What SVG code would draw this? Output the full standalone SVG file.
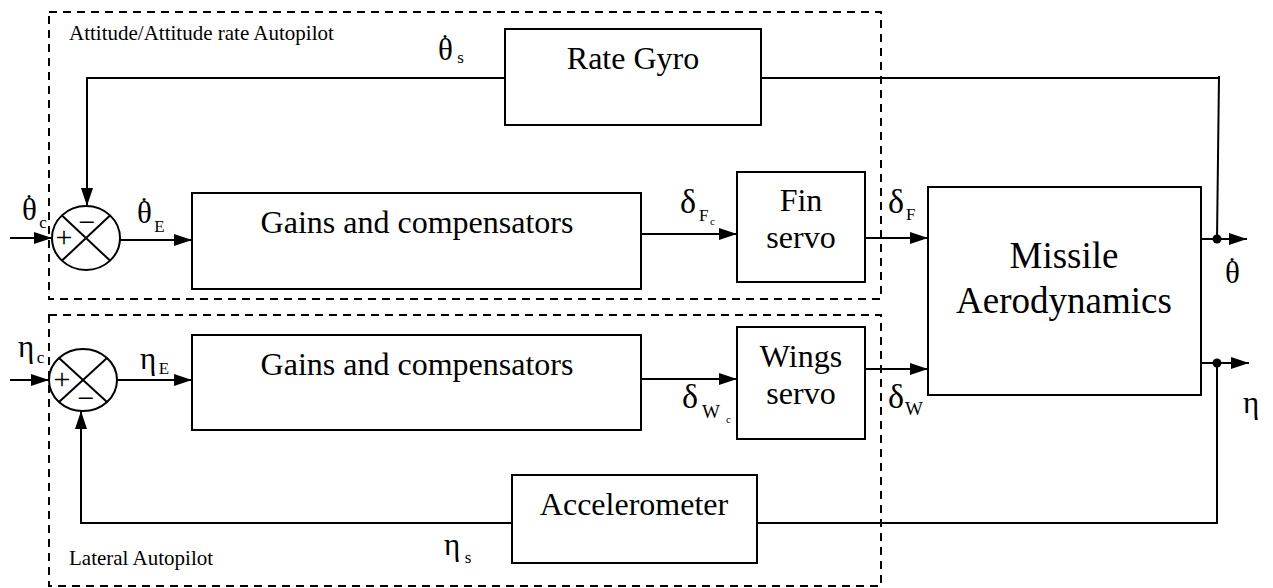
<svg xmlns="http://www.w3.org/2000/svg" width="1273" height="588" viewBox="0 0 1273 588">
<style>
text{font-family:"Liberation Serif","Times New Roman",serif;fill:#000}
.box{fill:#fff;stroke:#000;stroke-width:2}
.dash{fill:none;stroke:#000;stroke-width:2;stroke-dasharray:8 6}
.ln{fill:none;stroke:#000;stroke-width:2}
.arr{fill:none;stroke:#000;stroke-width:2;marker-end:url(#ah)}
.big{font-size:32px;text-anchor:middle}
.lab{font-size:21px}
.gk{font-size:31px}
.dl{font-size:34px}
.dot{font-size:26px}
.sub{font-size:17px}
.subw{font-size:19px}
.subsub{font-size:11px}
.sg{font-size:30px;text-anchor:middle}
</style>
<defs>
<marker id="ah" viewBox="0 0 18 12" refX="18" refY="6" markerWidth="18" markerHeight="12" markerUnits="userSpaceOnUse" orient="auto">
<path d="M0,0 L18,6 L0,12 Z" fill="#000"/>
</marker>
</defs>
<rect width="1273" height="588" fill="#fff"/>

<g id="autopilot-boundaries">
<rect class="dash" x="49" y="12" width="832" height="287"/>
<rect class="dash" x="49" y="315" width="832" height="271"/>
<text class="lab" x="69" y="40">Attitude/Attitude rate Autopilot</text>
<text class="lab" x="69" y="565">Lateral Autopilot</text>
</g>

<g id="connectors">
<line class="arr" x1="10" y1="238" x2="52" y2="238"/>
<line class="arr" x1="120" y1="240" x2="192" y2="240"/>
<line class="arr" x1="641" y1="234" x2="737" y2="234"/>
<line class="arr" x1="865" y1="238" x2="928" y2="238"/>
<line class="arr" x1="1201" y1="239" x2="1247" y2="239"/>
<polyline class="ln" points="1217,239 1219,76"/>
<line class="ln" x1="1219" y1="78" x2="761" y2="78"/>
<polyline class="arr" points="505,78 87,78 87,206"/>
<line class="arr" x1="10" y1="380" x2="49" y2="380"/>
<line class="arr" x1="117" y1="380" x2="192" y2="380"/>
<line class="arr" x1="641" y1="379" x2="737" y2="379"/>
<line class="arr" x1="865" y1="369" x2="928" y2="369"/>
<line class="arr" x1="1201" y1="363" x2="1249" y2="363"/>
<polyline class="ln" points="1217,363 1217,523 757,523"/>
<polyline class="arr" points="512,523 81,523 81,411"/>
<circle cx="1217" cy="239" r="4.5" fill="#000"/>
<circle cx="1217" cy="363" r="4.5" fill="#000"/>
</g>

<g id="sum1">
<ellipse class="box" cx="86" cy="238" rx="34" ry="32"/>
<line class="ln" x1="62" y1="215.4" x2="110" y2="260.6"/>
<line class="ln" x1="110" y1="215.4" x2="62" y2="260.6"/>
<text class="sg" x="64" y="247">+</text>
<text class="sg" x="87" y="232">−</text>
</g>

<g id="sum2">
<ellipse class="box" cx="83" cy="380" rx="34" ry="31"/>
<line class="ln" x1="59" y1="358.1" x2="107" y2="401.9"/>
<line class="ln" x1="107" y1="358.1" x2="59" y2="401.9"/>
<text class="sg" x="62" y="389">+</text>
<text class="sg" x="86" y="408">−</text>
</g>

<g id="rate-gyro">
<rect class="box" x="505" y="29" width="256" height="96"/>
<text class="big" x="633" y="69">Rate Gyro</text>
</g>

<g id="gains1">
<rect class="box" x="192" y="193" width="449" height="96"/>
<text class="big" x="417" y="233">Gains and compensators</text>
</g>

<g id="gains2">
<rect class="box" x="192" y="335" width="449" height="95"/>
<text class="big" x="417" y="375">Gains and compensators</text>
</g>

<g id="fin-servo">
<rect class="box" x="737" y="172" width="128" height="110"/>
<text class="big" x="801" y="211">Fin</text>
<text class="big" x="801" y="248">servo</text>
</g>

<g id="wings-servo">
<rect class="box" x="737" y="327" width="128" height="112"/>
<text class="big" x="801" y="367">Wings</text>
<text class="big" x="801" y="404">servo</text>
</g>

<g id="missile">
<rect class="box" x="928" y="187" width="273" height="208"/>
<text class="big" x="1064" y="268" style="font-size:37px">Missile</text>
<text class="big" x="1064" y="313" style="font-size:37px">Aerodynamics</text>
</g>

<g id="accelerometer">
<rect class="box" x="512" y="475" width="245" height="88"/>
<text class="big" x="634" y="515">Accelerometer</text>
</g>

<g id="labels">
<text x="22" y="220"><tspan class="gk">θ</tspan><tspan class="dot" dx="-11" dy="-22">.</tspan><tspan class="sub" dx="7" dy="30">c</tspan></text>
<text x="137" y="223"><tspan class="gk">θ</tspan><tspan class="dot" dx="-11" dy="-22">.</tspan><tspan class="sub" dx="7" dy="31">E</tspan></text>
<text x="438" y="60"><tspan class="gk">θ</tspan><tspan class="dot" dx="-11" dy="-22">.</tspan><tspan class="sub" dx="9" dy="25">s</tspan></text>
<text x="1225" y="283"><tspan class="gk">θ</tspan><tspan class="dot" dx="-11" dy="-22">.</tspan></text>
<text x="18" y="357"><tspan class="gk">η</tspan><tspan class="sub" dx="2.5" dy="6">c</tspan></text>
<text x="140" y="369"><tspan class="gk">η</tspan><tspan class="sub" dx="2.5" dy="5">E</tspan></text>
<text x="444" y="555"><tspan class="gk">η</tspan><tspan class="sub" dx="4.5" dy="8">s</tspan></text>
<text class="gk" x="1243" y="413">η</text>
<text x="680" y="213"><tspan class="dl">δ</tspan><tspan class="sub" dx="3" dy="8">F</tspan><tspan class="subsub" dx="1.5" dy="4">c</tspan></text>
<text x="888" y="213"><tspan class="dl">δ</tspan><tspan class="sub" dx="2" dy="7">F</tspan></text>
<text x="682" y="408"><tspan class="dl">δ</tspan><tspan class="subw" dx="4" dy="10">W</tspan><tspan class="subsub" dx="6" dy="5">c</tspan></text>
<text x="888" y="408"><tspan class="dl">δ</tspan><tspan class="subw" dx="1" dy="7">W</tspan></text>
</g>
</svg>
